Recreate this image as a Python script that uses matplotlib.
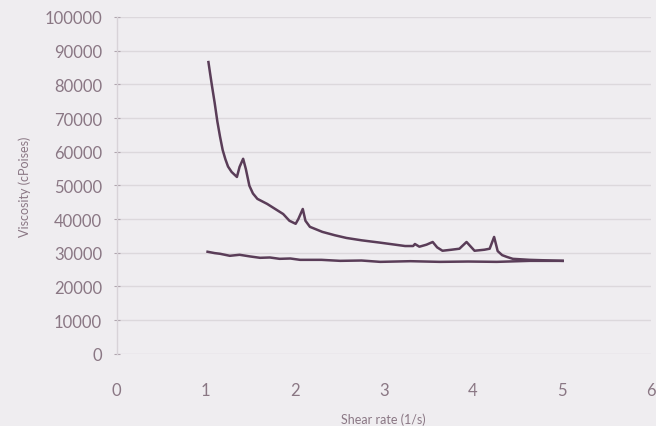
import matplotlib
matplotlib.use("Agg")
import matplotlib.pyplot as plt

# Flow curves: viscosity vs shear rate (up and down ramps)
shear_up = [1.03, 1.05, 1.07, 1.10, 1.13, 1.16, 1.19, 1.22, 1.25, 1.29, 1.35, 1.38, 1.42, 1.45,
            1.49, 1.53, 1.58, 1.69, 1.78, 1.87, 1.94, 2.01, 2.04, 2.09, 2.12, 2.17, 2.31,
            2.45, 2.58, 2.75, 2.96, 3.10, 3.24, 3.33, 3.35, 3.40, 3.48, 3.55, 3.60, 3.66,
            3.76, 3.85, 3.93, 4.02, 4.13, 4.19, 4.24, 4.28, 4.33, 4.38, 4.45, 4.64, 5.01]
visc_up = [86600, 83000, 79500, 74500, 69000, 64500, 60500, 57800, 55600, 54000, 52500, 55500,
           57900, 54900, 49900, 47600, 46000, 44500, 43000, 41500, 39500, 38600, 40000, 43000,
           39500, 37700, 36200, 35200, 34400, 33700, 33000, 32500, 32000, 32000, 32600, 31800,
           32400, 33200, 31600, 30600, 30900, 31200, 33200, 30600, 30900, 31200, 34700, 30500,
           29300, 28800, 28200, 27900, 27600]

shear_down = [1.02, 1.10, 1.16, 1.27, 1.38, 1.50, 1.61, 1.72, 1.83, 1.95, 2.06, 2.30, 2.51,
              2.75, 2.96, 3.30, 3.63, 3.95, 4.27, 4.64, 5.01]
visc_down = [30300, 29900, 29700, 29100, 29400, 28900, 28500, 28600, 28200, 28300, 27900,
             27900, 27600, 27700, 27300, 27500, 27300, 27400, 27300, 27600, 27600]

x_ticks = [0, 1, 2, 3, 4, 5, 6]
y_ticks = [0, 10000, 20000, 30000, 40000, 50000, 60000, 70000, 80000, 90000, 100000]

bg = "#efedf0"
text_col = "#8a7784"
line_col = "#5a3d58"

plt.rcParams["font.family"] = ["Lato", "DejaVu Sans"]

fig = plt.figure(figsize=(6.56, 4.27), dpi=100, facecolor=bg)
ax = fig.add_axes([0.178, 0.169, 0.814, 0.789], facecolor=bg)

ax.plot(shear_up, visc_up, color=line_col, lw=1.8, solid_joinstyle="round")
ax.plot(shear_down, visc_down, color=line_col, lw=1.8, solid_joinstyle="round")

ax.set_xlim(0, 6)
ax.set_ylim(0, 100000)
ax.set_xticks(x_ticks)
ax.set_yticks(y_ticks)
ax.set_xticklabels([str(t) for t in x_ticks])
ax.set_yticklabels([str(t) for t in y_ticks])

ax.grid(axis="y", color="#dcd8dc", lw=1.0)
ax.set_axisbelow(True)
for side in ("top", "right", "bottom"):
    ax.spines[side].set_visible(False)
ax.spines["left"].set_color("#d8d3d8")
ax.spines["left"].set_linewidth(1.0)

ax.tick_params(axis="y", direction="inout", length=5, color="#b0a5ae",
               labelsize=12, labelcolor=text_col, pad=8)
ax.tick_params(axis="x", length=0, labelsize=12, labelcolor=text_col, pad=20)

ax.set_xlabel("Shear rate (1/s)", fontsize=9, color=text_col, labelpad=11)
ax.set_ylabel("Viscosity (cPoises)", fontsize=9, color=text_col, labelpad=10)

fig.savefig("out.png", dpi=100, facecolor=bg)
